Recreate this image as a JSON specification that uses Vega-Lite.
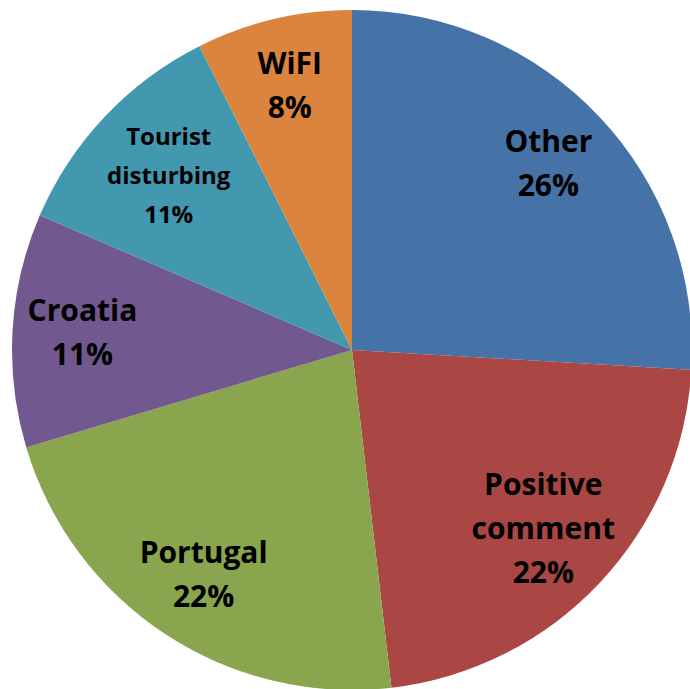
{
  "$schema": "https://vega.github.io/schema/vega-lite/v6.json",
  "width": 690,
  "height": 689,
  "autosize": {"type": "fit", "contains": "padding"},
  "padding": {"left": 14, "top": 11, "right": 0, "bottom": 0},
  "background": "white",
  "view": {"stroke": null},
  "data": {
    "values": [
      {"cat": "Other", "value": 7, "idx": 1, "label": "Other\n26%", "lines": 2},
      {"cat": "Positive comment", "value": 6, "idx": 2, "label": "Positive\ncomment\n22%", "lines": 3},
      {"cat": "Portugal", "value": 6, "idx": 3, "label": "Portugal\n22%", "lines": 2},
      {"cat": "Croatia", "value": 3, "idx": 4, "label": "Croatia\n11%", "lines": 2},
      {"cat": "Tourist disturbing", "value": 3, "idx": 5, "label": "Tourist\ndisturbing\n11%", "lines": 3},
      {"cat": "WiFI", "value": 2, "idx": 6, "label": "WiFI\n8%", "lines": 2}
    ]
  },
  "encoding": {
    "theta": {"field": "value", "type": "quantitative", "stack": true},
    "order": {"field": "idx", "type": "quantitative"},
    "color": {
      "field": "cat",
      "type": "nominal",
      "legend": null,
      "scale": {
        "domain": ["Other", "Positive comment", "Portugal", "Croatia", "Tourist disturbing", "WiFI"],
        "range": ["#4572A7", "#AA4643", "#89A54E", "#71588F", "#4198AF", "#DB843D"]
      }
    }
  },
  "layer": [
    {"mark": {"type": "arc", "outerRadius": 340, "stroke": null}},
    {
      "mark": {"type": "text", "radius": 270, "font": "Open Sans", "fontWeight": "bold", "fontSize": 30, "lineBreak": "\n", "lineHeight": 44, "dy": -22, "baseline": "middle", "align": "center"},
      "encoding": {
        "text": {"condition": {"test": "datum.lines === 2", "field": "label"}, "value": ""},
        "color": {"value": "#000000"}
      }
    },
    {
      "mark": {"type": "text", "radius": 263, "font": "Open Sans", "fontWeight": "bold", "fontSize": 30, "lineBreak": "\n", "lineHeight": 44, "dy": -44, "baseline": "middle", "align": "center"},
      "encoding": {
        "text": {"condition": {"test": "datum.cat === 'Positive comment'", "field": "label"}, "value": ""},
        "color": {"value": "#000000"}
      }
    },
    {
      "mark": {"type": "text", "radius": 252, "font": "Open Sans", "fontWeight": "bold", "fontSize": 24, "lineBreak": "\n", "lineHeight": 39, "dy": -39, "baseline": "middle", "align": "center"},
      "encoding": {
        "text": {"condition": {"test": "datum.cat === 'Tourist disturbing'", "field": "label"}, "value": ""},
        "color": {"value": "#000000"}
      }
    }
  ]
}
